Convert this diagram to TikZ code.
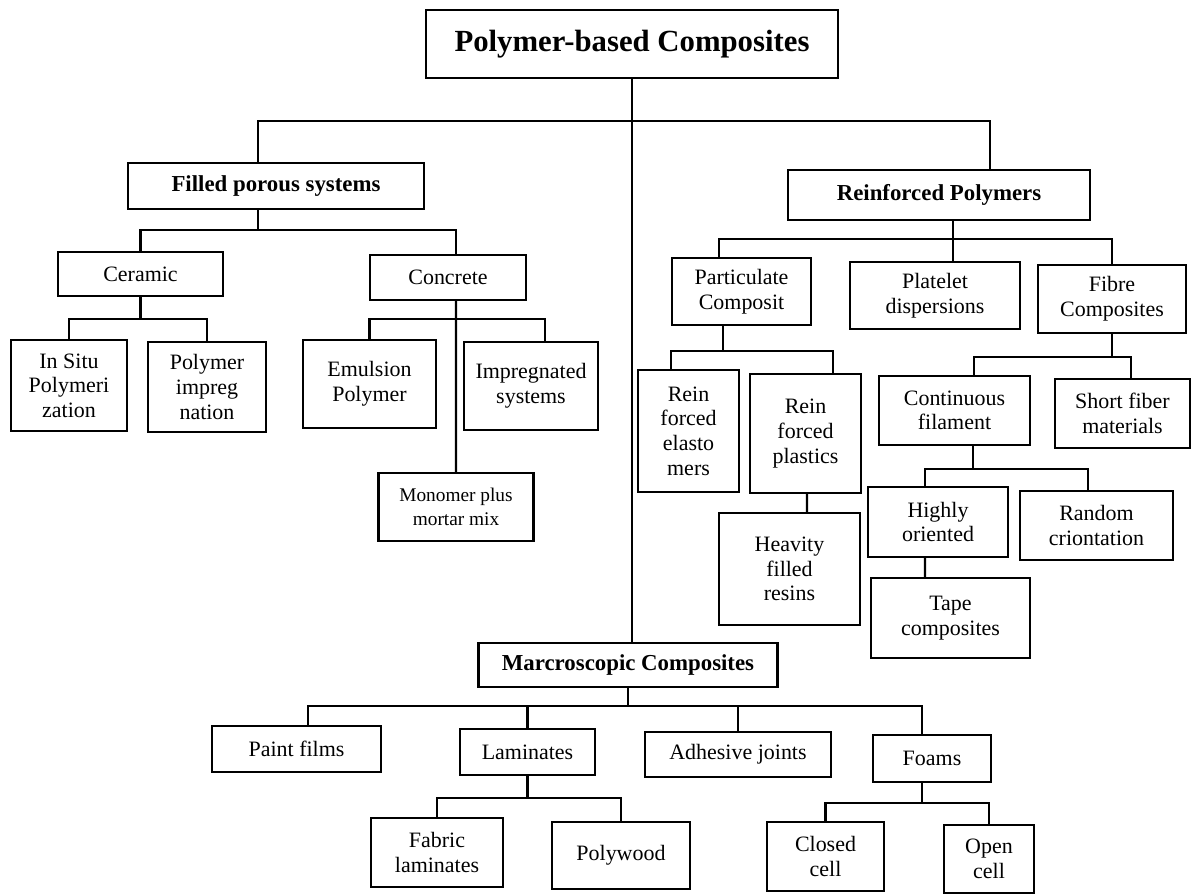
\documentclass[tikz,border=0pt]{standalone}
\usepackage{fontspec}
\setmainfont{Liberation Serif}
\usepackage{tikz}

\begin{document}
\begin{tikzpicture}[
  x=0.02cm, y=-0.02cm,
  cbox/.style = {rectangle, draw=black, fill=white, line width=1.3pt, align=center,
                 font=\fontsize{12.5}{14}\selectfont, inner sep=2pt},
  hbox/.style = {cbox, font=\fontsize{13}{15}\selectfont\bfseries},
  rbox/.style = {cbox, font=\fontsize{17.5}{20}\selectfont\bfseries},
  sz/.style 2 args = {minimum width=#1*0.02cm, minimum height=#2*0.02cm},
  tr/.style   = {line width=1.3pt, black},
]
  \useasboundingbox (0,0) rectangle (1193,894);

  % main levels
  \node[rbox, sz={412}{68}] (root) at (632,44)    {Polymer-based Composites};
  \node[hbox, sz={296}{46}] (fps)  at (276,186)   {Filled porous systems};
  \node[hbox, sz={302}{50}] (rp)   at (939,195)   {Reinforced Polymers};
  \node[hbox, sz={299}{44}] (mac)  at (628,665)   {Marcroscopic Composites};

  % filled porous systems
  \node[cbox, sz={165}{44}]  (cer)    at (140.5,274) {Ceramic};
  \node[cbox, sz={156}{45}]  (conc)   at (448,277.5) {Concrete};
  \node[cbox, sz={116}{91}]  (insitu) at (69,385.5)  {In Situ\\Polymeri\\zation};
  \node[cbox, sz={118}{90}]  (pimp)   at (207,387)   {Polymer\\impreg\\nation};
  \node[cbox, sz={133}{88}]  (emul)   at (369.5,384) {Emulsion\\Polymer};
  \node[cbox, sz={134}{88}]  (impsys) at (531,386)   {Impregnated\\systems};
  \node[cbox, sz={155}{68}, font=\fontsize{11}{14}\selectfont]
                             (mono)   at (456,507)   {Monomer plus\\mortar mix};

  % reinforced polymers
  \node[cbox, sz={139}{67}]  (part)   at (741.5,291.5) {Particulate\\Composit};
  \node[cbox, sz={170}{67}]  (plat)   at (935,295.5)   {Platelet\\dispersions};
  \node[cbox, sz={148}{68}]  (fib)    at (1112,299)    {Fibre\\Composites};
  \node[cbox, sz={101}{122}] (relast) at (688.5,431)   {Rein\\forced\\elasto\\mers};
  \node[cbox, sz={111}{119}] (rplast) at (805.5,433.5) {Rein\\forced\\plastics};
  \node[cbox, sz={141}{112}] (heav)   at (789.5,569)   {Heavity\\filled\\resins};
  \node[cbox, sz={151}{69}]  (cont)   at (954.5,410.5) {Continuous\\filament};
  \node[cbox, sz={135}{69}]  (short)  at (1122.5,413.5) {Short fiber\\materials};
  \node[cbox, sz={140}{70}]  (high)   at (938,522)     {Highly\\oriented};
  \node[cbox, sz={153}{69}]  (rand)   at (1096.5,525.5) {Random\\criontation};
  \node[cbox, sz={159}{80}]  (tape)   at (950.5,618)   {Tape\\composites};

  % macroscopic composites
  \node[cbox, sz={169}{46}]  (paint)  at (296.5,749)   {Paint films};
  \node[cbox, sz={135}{46}]  (lam)    at (527.5,752)   {Laminates};
  \node[cbox, sz={186}{45}]  (adh)    at (738,754.5)   {Adhesive joints};
  \node[cbox, sz={118}{47}]  (foam)   at (932,758.5)   {Foams};
  \node[cbox, sz={132}{69}]  (fab)    at (437,852.5)   {Fabric\\laminates};
  \node[cbox, sz={138}{67}]  (poly)   at (621,855.5)   {Polywood};
  \node[cbox, sz={117}{69}]  (closed) at (825.5,856.5) {Closed\\cell};
  \node[cbox, sz={90}{68}]   (open)   at (989,859)     {Open\\cell};

  % tree lines
  \draw[tr] (root.south) -- ++(0,42) -| ([xshift=-0.36cm]fps.north);
  \draw[tr] (root.south) -- ++(0,42) -| ([xshift=1.02cm]rp.north);
  \draw[tr] (root.south) -- (root.south |- mac.north);

  \draw[tr] ([xshift=-0.36cm]fps.south) -- ++(0,20) -| (cer.north);
  \draw[tr] ([xshift=-0.36cm]fps.south) -- ++(0,20) -| ([xshift=0.16cm]conc.north);
  \draw[tr] (cer.south) -- ++(0,22) -| (insitu.north);
  \draw[tr] (cer.south) -- ++(0,22) -| (pimp.north);
  \draw[tr] ([xshift=0.16cm]conc.south) -- ++(0,18) -| (emul.north);
  \draw[tr] ([xshift=0.16cm]conc.south) -- ++(0,18) -| ([xshift=0.28cm]impsys.north);
  \draw[tr] ([xshift=0.16cm]conc.south) -- (mono.north);

  \draw[tr] ([xshift=0.28cm]rp.south) -- ++(0,18) -| ([xshift=-0.45cm]part.north);
  \draw[tr] ([xshift=0.28cm]rp.south) -- ++(0,18) -| ([xshift=0.36cm]plat.north);
  \draw[tr] ([xshift=0.28cm]rp.south) -- ++(0,18) -| (fib.north);
  \draw[tr] ([xshift=-0.37cm]part.south) -- ++(0,25) -| ([xshift=-0.35cm]relast.north);
  \draw[tr] ([xshift=-0.37cm]part.south) -- ++(0,25) -| ([xshift=0.55cm]rplast.north);
  \draw[tr] ([xshift=0.03cm]rplast.south) -- ([xshift=0.35cm]heav.north);
  \draw[tr] (fib.south) -- ++(0,23) -| ([xshift=0.39cm]cont.north);
  \draw[tr] (fib.south) -- ++(0,23) -| ([xshift=0.17cm]short.north);
  \draw[tr] ([xshift=0.37cm]cont.south) -- ++(0,23) -| ([xshift=-0.26cm]high.north);
  \draw[tr] ([xshift=0.37cm]cont.south) -- ++(0,23) -| ([xshift=-0.17cm]rand.north);
  \draw[tr] ([xshift=-0.26cm]high.south) -- ([xshift=-0.51cm]tape.north);

  \draw[tr] (mac.south) -- ++(0,18) -| ([xshift=0.23cm]paint.north);
  \draw[tr] (mac.south) -- ++(0,18) -| (lam.north);
  \draw[tr] (mac.south) -- ++(0,18) -| (adh.north);
  \draw[tr] (mac.south) -- ++(0,18) -| ([xshift=-0.2cm]foam.north);
  \draw[tr] (lam.south) -- ++(0,22) -| (fab.north);
  \draw[tr] (lam.south) -- ++(0,22) -| (poly.north);
  \draw[tr] ([xshift=-0.2cm]foam.south) -- ++(0,20) -| (closed.north);
  \draw[tr] ([xshift=-0.2cm]foam.south) -- ++(0,20) -| (open.north);
\end{tikzpicture}
\end{document}
